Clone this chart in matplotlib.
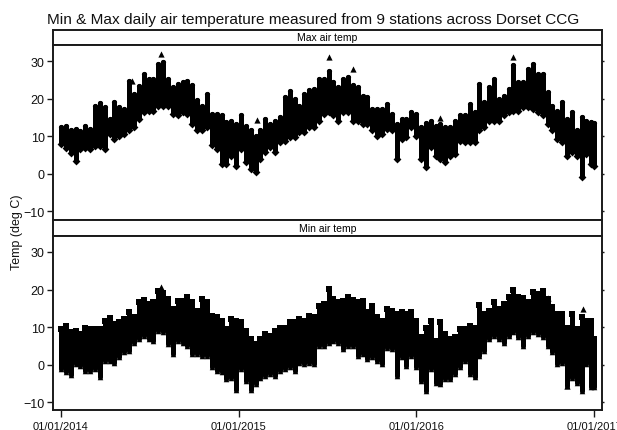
import numpy as np
import matplotlib
matplotlib.use("Agg")
import matplotlib.pyplot as plt

plt.rcParams["font.family"] = ["Liberation Sans", "DejaVu Sans"]

# days since 01/01/2014, one column of readings every 10 days
days = list(range(0, 1100, 10)) + [1096]

# max air temp, warmest and coldest station
max_hi = [12.4, 12.9, 11.8, 12, 11.5, 12.7, 12, 18.2, 19, 17.8,
          14.7, 19.3, 17.8, 17.3, 24.9, 21.3, 23.5, 26.7, 25.3, 25.3,
          29.3, 29.8, 25.3, 23.1, 24, 24.4, 24.9, 23.7, 19.6, 18.2,
          21.3, 16, 16, 15.6, 13.8, 14.2, 13.3, 15.6, 12.9, 11.6,
          10.2, 11.6, 14.7, 13.3, 14.2, 15.1, 20.4, 22, 20, 18.2,
          21.3, 22.5, 22.7, 25.3, 25.3, 27.5, 24.4, 23.1, 25.3, 25.8,
          23.6, 23.1, 20.9, 20.4, 17.3, 17.3, 17.3, 18.7, 16, 13.3,
          14.7, 14.7, 16.4, 16, 12.4, 13.6, 14.2, 12.9, 13.3, 12.4,
          12.4, 14.2, 15.6, 15.6, 18.7, 16.4, 24, 19.1, 23.1, 25.3,
          20, 20.9, 22.7, 29, 24.4, 24.4, 28, 29.3, 26.7, 26.7,
          21.8, 18.2, 16.9, 19.1, 14.7, 16.4, 11.6, 15.1, 14.2, 13.8, 13.5]
max_lo = [8, 7, 5.6, 3.4, 6.7, 6.8, 6.7, 7.5, 7.5, 6.7,
          10.7, 9.3, 10.2, 10.7, 11.6, 12.4, 14.7, 16.4, 16.9, 16.9,
          18.2, 18.2, 18.2, 16, 15.6, 16.4, 16, 13.3, 11.6, 11.6,
          12.4, 7.6, 6.7, 2.7, 2.7, 4.9, 2.2, 6.7, 3.1, 1.3,
          0.6, 4, 5.8, 7.1, 5.8, 8.4, 8.9, 9.8, 9.8, 11.1,
          11.1, 12.4, 12.4, 14.2, 16, 16.4, 15.6, 14.2, 16.4, 16.4,
          14.2, 14.2, 13.3, 13.3, 11.6, 10.2, 10.7, 12, 11.6, 4,
          9.3, 9.8, 12.4, 10.2, 4, 1.8, 7.1, 4.9, 4, 3.1,
          4.9, 5.3, 8.9, 8.4, 8.4, 8.4, 11.6, 12.4, 14.2, 14.2,
          14.2, 15.6, 16.4, 16.9, 16.9, 17.8, 17.8, 17.3, 16.4, 15.6,
          13.3, 11.6, 9.3, 8.4, 4.9, 5.8, 4.9, -0.9, 5.3, 2.7, 2.2]

# min air temp, warmest and coldest station
min_hi = [9.5, 10.4, 8.6, 8.9, 8.2, 9.9, 9.5, 9.5, 9.5, 11.7,
          12.4, 10.8, 11.3, 12.2, 13.9, 12.6, 16.6, 17.2, 16.1, 16.6,
          19.7, 19, 17.5, 14.8, 17, 16.9, 18.1, 16.6, 14.4, 17.5,
          16.6, 13, 12.6, 11.7, 9.5, 12.2, 11.7, 11.3, 9, 6.8,
          5.5, 6.8, 8.2, 7.7, 9, 9.9, 9.9, 11.3, 11.5, 12.2,
          11.7, 13, 12.6, 15.7, 16.1, 20.1, 17.5, 16.6, 17, 18.1,
          17.2, 16.6, 17, 13.9, 15.7, 12.6, 11.7, 14.8, 14.4, 13.5,
          13.9, 13.5, 13.9, 11.7, 7.3, 9.9, 11.7, 6.4, 11.5, 8.2,
          6.8, 7.3, 9.5, 9.5, 10.4, 9.9, 16, 13.5, 14.4, 16.6,
          14.8, 16.1, 17.9, 19.9, 17.9, 17.7, 16.6, 19.3, 18.8, 19.7,
          17.5, 15.3, 13.5, 13.5, 9.9, 13.5, 9.5, 12.6, 11.7, 11.7, 6.8]
min_lo = [-1.2, -2, -2.8, 0.2, -0.3, -1.6, -1.6, -1.2, -3.2, 1.1,
          1.1, 0.6, 2, 3.3, 3.7, 5.9, 6.8, 7.7, 6.8, 6.4,
          9, 8.6, 5.5, 2.8, 6.4, 5.9, 5.1, 2.8, 2.8, 2.4,
          2.4, -0.7, -1.6, -2, -3.8, -3.4, -6.7, -1.2, -4.3, -6.7,
          -5.1, -3.4, -2.9, -2.5, -2.9, -1.6, -1.2, -0.7, -1.6, 0.6,
          0.2, 0.6, 0.2, 5.1, 5.1, 5.9, 6.4, 5.9, 4.2, 5.1,
          5.1, 2.4, 2.8, 1.5, 2, 1.1, 0.2, 4.6, 4.2, -2.9,
          2, -0.3, 2.4, -0.7, -4.3, -6.9, -1.2, -4.7, -5.1, -3.8,
          -3.8, -2.5, -0.7, 1.1, -2.5, -3.2, 2.4, 3.7, 6.8, 7.7,
          6.8, 5.9, 7.7, 8.6, 7.3, 5.1, 7.7, 8.6, 8.2, 7.3,
          5.1, 3.3, 0.2, 0.6, -5.6, -3.4, -4.7, -6.9, 0.2, -6, -6]

# readings that stand clear of the main cloud
max_out_days = [205, 145, 550, 600, 780, 930, 403]
max_out_temp = [32, 24.9, 31.1, 28, 15, 31.2, 14.5]
min_out_days = [205, 1073, 1040, 1000]
min_out_temp = [20.6, 14.8, -5.7, 17.7]

tick_days = [0, 365, 730, 1096]
tick_labels = ["01/01/2014", "01/01/2015", "01/01/2016", "01/01/2017"]
y_ticks = [-10, 0, 10, 20, 30]

W, H = 617, 431
XLIM = (-16.4, 1112)
INK = "#1a1a1a"


def px_axes(fig, left, top, right, bottom):
    # axes placed by reference pixel edges
    return fig.add_axes([left / W, 1 - bottom / H, (right - left) / W, (bottom - top) / H])


def style_frame(ax):
    for side in ax.spines:
        ax.spines[side].set_linewidth(1.4)
        ax.spines[side].set_color(INK)


def draw_strip(fig, top, bottom, label):
    ax = px_axes(fig, 53, top, 602, bottom)
    ax.set_xticks([])
    ax.set_yticks([])
    style_frame(ax)
    ax.text(0.5, 0.5, label, transform=ax.transAxes, ha="center", va="center",
            fontsize=7.5, color="black")


def draw_panel(ax, hi, lo, out_days, out_temp, hi_marker, lo_marker):
    # station spread for each column, with the extremes marked at the ends
    ax.vlines(days, lo, hi, color="black", linewidth=3.6, capstyle="round")
    ax.scatter(days, hi, marker=hi_marker, s=14, color="black", linewidths=0)
    ax.scatter(days, lo, marker=lo_marker, s=16, color="black", linewidths=0)
    ax.scatter(out_days, out_temp, marker="^", s=20, color="black", linewidths=0)
    ax.set_xlim(XLIM)
    ax.set_yticks(y_ticks)
    ax.tick_params(axis="y", labelsize=9, length=4, width=1, color=INK, pad=2,
                   labelcolor="#111111", right=True)
    # the right edge only has small nubs
    for tick in ax.yaxis.get_major_ticks():
        tick.tick2line.set_markersize(1.2)
    ax.set_xticks([])
    style_frame(ax)


fig = plt.figure(figsize=(W / 100, H / 100), dpi=100, facecolor="white")

fig.text(313 / W, 1 - 20 / H,
         "Min & Max daily air temperature measured from 9 stations across Dorset CCG",
         ha="center", va="center", fontsize=11.1, color="#111111")

draw_strip(fig, 31, 46, "Max air temp")
ax_max = px_axes(fig, 53, 46, 602, 221)
draw_panel(ax_max, max_hi, max_lo, max_out_days, max_out_temp, "o", "D")
ax_max.set_ylim(-12.3, 34.4)

draw_strip(fig, 221, 236.7, "Min air temp")
ax_min = px_axes(fig, 53, 236.7, 602, 411)
draw_panel(ax_min, min_hi, min_lo, min_out_days, min_out_temp, "s", "^")
ax_min.set_ylim(-12.0, 34.3)
ax_min.set_xticks(tick_days)
ax_min.set_xticklabels(tick_labels)
ax_min.tick_params(axis="x", labelsize=8, length=5, width=1, color=INK, pad=3,
                   labelcolor="#111111")

fig.text(17 / W, 1 - 232 / H, "Temp (deg C)", rotation=90, ha="center", va="center",
         fontsize=9, color="#111111")

fig.savefig("out.png", dpi=100, facecolor="white")
